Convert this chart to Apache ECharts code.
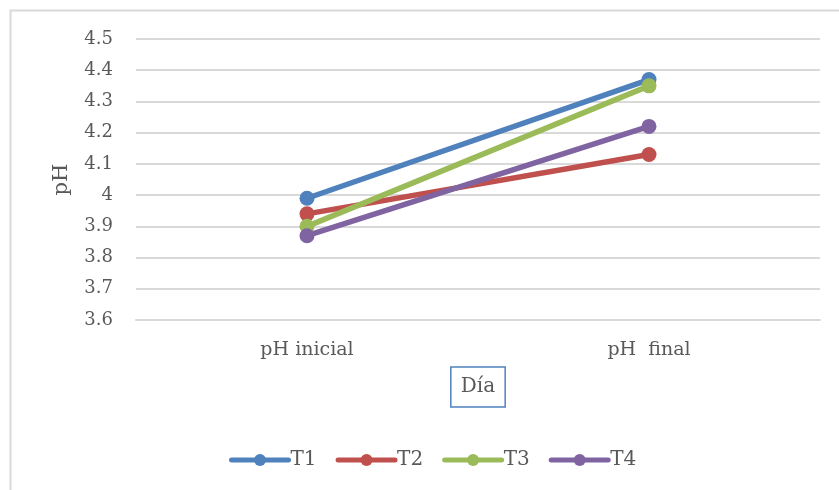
<!DOCTYPE html>
<html>
<head>
<meta charset="utf-8">
<script src="https://cdn.jsdelivr.net/npm/echarts@6/dist/echarts.min.js"></script>
<style>
  html, body { margin: 0; padding: 0; background: #fff; }
  #main { width: 839px; height: 490px; }
</style>
</head>
<body>
<div id="main"></div>
<script>
const categories = ['pH inicial', 'pH  final'];
const seriesNames = ['T1', 'T2', 'T3', 'T4'];
const t1 = [3.99, 4.37];
const t2 = [3.94, 4.13];
const t3 = [3.90, 4.35];
const t4 = [3.87, 4.22];
const colors = ['#4F81BD', '#C0504D', '#9BBB59', '#8064A2'];

const FONT = '"DejaVu Serif", "Liberation Serif", serif';
const chart = echarts.init(document.getElementById('main'), null, { renderer: 'canvas' });

function makeSeries(name, data, color) {
  return {
    name: name,
    type: 'line',
    data: data,
    symbol: 'circle',
    symbolSize: 15,
    lineStyle: { width: 5.5, color: color, cap: 'round' },
    itemStyle: { color: color },
    emphasis: { disabled: true }
  };
}

const option = {
  animation: false,
  color: colors,
  textStyle: { fontFamily: FONT },
  graphic: [{
    type: 'rect',
    shape: { x: 10.5, y: 10.5, width: 900, height: 600 },
    style: { fill: 'none', stroke: '#D9D9D9', lineWidth: 2 },
    silent: true
  }],
  grid: { left: 136, right: 19, top: 39, bottom: 170 },
  legend: {
    bottom: 15,
    left: 224,
    itemWidth: 57,
    itemHeight: 15,
    itemGap: 19,
    data: seriesNames,
    lineStyle: { width: 5, cap: 'round' },
    textStyle: { fontFamily: FONT, fontSize: 20, color: '#595959', padding: [0, 0, 0, -3] }
  },
  xAxis: {
    type: 'category',
    data: categories,
    boundaryGap: true,
    name: 'Día',
    nameLocation: 'middle',
    nameGap: 47,
    nameTextStyle: {
      fontFamily: FONT, fontSize: 20, color: '#595959', lineHeight: 24,
      borderColor: '#4F81BD', borderWidth: 1.5,
      padding: [8, 10, 8, 10]
    },
    axisLine: { show: true, lineStyle: { color: '#D9D9D9', width: 2 } },
    axisTick: { show: false },
    axisLabel: { fontFamily: FONT, fontSize: 19, color: '#595959', margin: 21 }
  },
  yAxis: {
    type: 'value',
    min: 3.6,
    max: 4.5,
    interval: 0.1,
    name: 'pH',
    nameLocation: 'middle',
    nameGap: 64,
    nameRotate: 90,
    nameTextStyle: { fontFamily: FONT, fontSize: 21, color: '#595959' },
    axisLine: { show: false },
    axisTick: { show: false },
    axisLabel: {
      fontFamily: FONT, fontSize: 18, color: '#595959', margin: 23,
      formatter: function (v) { return String(Math.round(v * 10) / 10); }
    },
    splitLine: { lineStyle: { color: '#D9D9D9', width: 2 } }
  },
  series: [
    makeSeries(seriesNames[0], t1, colors[0]),
    makeSeries(seriesNames[1], t2, colors[1]),
    makeSeries(seriesNames[2], t3, colors[2]),
    makeSeries(seriesNames[3], t4, colors[3])
  ]
};

chart.setOption(option);
</script>
</body>
</html>
